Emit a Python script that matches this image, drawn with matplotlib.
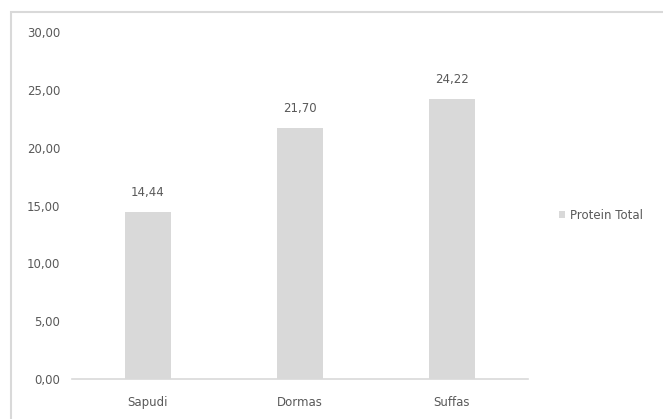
import matplotlib.pyplot as plt
from matplotlib.patches import Rectangle

# data
categories = ['Sapudi', 'Dormas', 'Suffas']
protein_total = [14.44, 21.70, 24.22]
y_ticks = [0, 5, 10, 15, 20, 25, 30]

txt = '#595959'
bar_c = '#d9d9d9'

plt.rcParams['font.family'] = ['DejaVu Sans']

fig = plt.figure(figsize=(6.63, 4.19), dpi=100)
# chart area border (only top/left visible in the crop)
fig.patches.append(Rectangle((11/663, -0.05), 1.0, 1 - 12/419 + 0.05,
                             transform=fig.transFigure, fill=False,
                             edgecolor='#d9d9d9', linewidth=1.5))

ax = fig.add_axes([72/663, 1 - 379/419, 456/663, 347/419])
x = range(len(categories))
bars = ax.bar(x, protein_total, width=0.3, color=bar_c, label='Protein Total')

for xi, v in zip(x, protein_total):
    ax.annotate(f'{v:.2f}'.replace('.', ','), (xi, v), xytext=(0, 14),
                textcoords='offset points', ha='center', va='center',
                fontsize=8.5, color=txt)

ax.set_xlim(-0.5, 2.5)
ax.set_ylim(0, 30)
ax.set_yticks(y_ticks)
ax.set_yticklabels([f'{t:.2f}'.replace('.', ',') for t in y_ticks])
ax.set_xticks(list(x))
ax.set_xticklabels(categories)
ax.tick_params(length=0, labelsize=8.5, colors=txt)
ax.tick_params(axis='y', pad=8.5)
ax.tick_params(axis='x', pad=12)
for s in ['top', 'right', 'left']:
    ax.spines[s].set_visible(False)
ax.spines['bottom'].set_color('#d9d9d9')
ax.spines['bottom'].set_linewidth(1.2)

leg = fig.legend(handles=[bars], labels=['Protein Total'], loc='center left',
                 bbox_to_anchor=(548/663, 1 - 215/419), frameon=False,
                 fontsize=8.5, handlelength=0.55, handleheight=0.55,
                 handletextpad=0.4, labelcolor=txt)

fig.savefig('out.png', dpi=100)
